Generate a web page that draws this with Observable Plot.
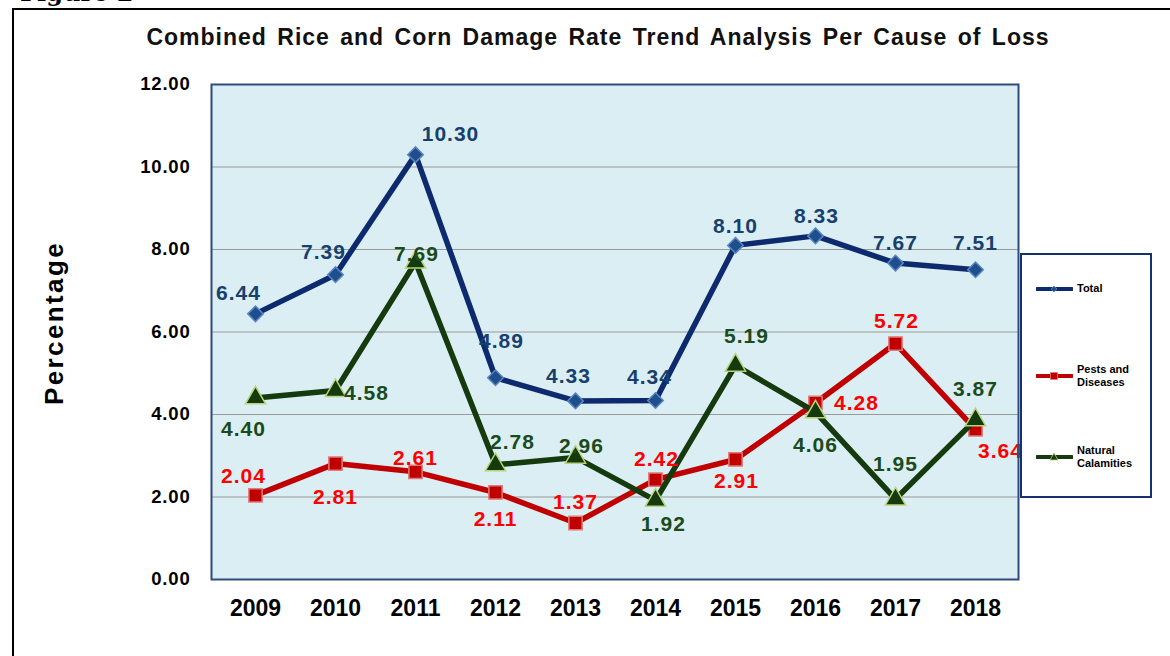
<!DOCTYPE html>
<html><head><meta charset="utf-8">
<script src="https://cdn.jsdelivr.net/npm/d3@7"></script>
<script src="https://cdn.jsdelivr.net/npm/@observablehq/plot@0.6"></script>
<style>
body{margin:0;background:#fff;font-family:"Liberation Sans",Arial,sans-serif;}
#wrap{position:relative;width:1170px;height:656px;overflow:hidden;}
#fig{position:absolute;left:20px;top:-22px;font-family:"DejaVu Serif",serif;font-weight:bold;font-size:24px;}
#frame{position:absolute;left:12px;top:8px;width:1200px;height:700px;border-left:2px solid #000;border-top:2px solid #000;}
#title{position:absolute;left:0;width:1196px;top:24px;text-align:center;font-weight:bold;font-size:23px;letter-spacing:1px;word-spacing:3px;color:#111;}
#ylab{position:absolute;left:54px;top:323px;transform:translate(-50%,-50%) rotate(-90deg);font-weight:bold;font-size:26px;letter-spacing:2.4px;white-space:nowrap;}
#legend{position:absolute;left:1020px;top:253px;width:128px;height:241px;border:2px solid #17326B;background:#fff;}
.li{position:absolute;left:14px;display:flex;align-items:center;font-size:11px;font-weight:bold;line-height:13px;}
.li svg{margin-right:4px;}
#plot{position:absolute;left:0;top:0;}
</style></head>
<body><div id="wrap">
<div id="fig">Figure 2</div>
<div id="frame"></div>
<div id="plot"></div>
<div id="title">Combined Rice and Corn Damage Rate Trend Analysis Per Cause of Loss</div>
<div id="ylab">Percentage</div>
<div id="legend"></div>
</div>
<script>
// ---- data ----
const years = ["2009","2010","2011","2012","2013","2014","2015","2016","2017","2018"];
const total = [6.44, 7.39, 10.30, 4.89, 4.33, 4.34, 8.10, 8.33, 7.67, 7.51];
const pests = [2.04, 2.81, 2.61, 2.11, 1.37, 2.42, 2.91, 4.28, 5.72, 3.64];
const natural = [4.40, 4.58, 7.69, 2.78, 2.96, 1.92, 5.19, 4.06, 1.95, 3.87];
const seriesNames = ["Total", "Pests and Diseases", "Natural Calamities"];
const yTicks = [0, 2, 4, 6, 8, 10, 12];

// ---- layout / style (label offsets relative to each point) ----
const labelOffsets = {
  "Total": [[-17,-21],[-12,-22],[35,-20],[6,-37],[-7,-25],[-6,-23],[0,-19],[1,-20],[0,-20],[0,-26]],
  "Pests and Diseases": [[-12,-19],[0,34],[0,-14],[0,27],[0,-21],[1,-20],[1,22],[41,0],[1,-22],[25,22]],
  "Natural Calamities": [[-12,31],[31,3],[1,-8],[17,-23],[6,-11],[8,24],[11,-29],[0,33],[0,-35],[0,-31]]
};
const styles = {
  "Total": {line:"#0E2A6E", fill:"#1F4E8C", stroke:"#5B84C4", text:"#17406E", symbol:"diamond2", r:7},
  "Pests and Diseases": {line:"#C00000", fill:"#C00000", stroke:"#E07A7A", text:"#FF0000", symbol:"square", r:7.5},
  "Natural Calamities": {line:"#143A0E", fill:"#143A0E", stroke:"#B9D27C", text:"#1B4A1B", symbol:"triangle", r:7.5}
};

const valuesBy = {"Total": total, "Pests and Diseases": pests, "Natural Calamities": natural};
const rows = [];
for (const s of seriesNames) {
  valuesBy[s].forEach((v, i) => rows.push({series: s, year: years[i], value: v,
    dx: labelOffsets[s][i][0], dy: labelOffsets[s][i][1]}));
}

const marks = [
  Plot.frame({fill:"#DAEEF3"}),
  Plot.ruleY(yTicks.filter(d => d > 0 && d < 12), {stroke:"#9A9A9A", strokeWidth:1.2})
];
for (const s of seriesNames) {
  const st = styles[s];
  const d = rows.filter(r => r.series === s);
  marks.push(Plot.line(d, {x:"year", y:"value", stroke:st.line, strokeWidth:5.5, strokeLinejoin:"miter"}));
  marks.push(Plot.dot(d, {x:"year", y:"value", symbol:st.symbol, r:st.r, fill:st.fill, stroke:st.stroke, strokeWidth:1.5}));
}
for (const s of seriesNames) {
  const st = styles[s];
  const d = rows.filter(r => r.series === s);
  for (const r of d) {
    marks.push(Plot.text([r], {x:"year", y:"value", text: r => r.value.toFixed(2), dx:r.dx, dy:r.dy,
      fill:st.text, fontSize:21, fontWeight:"bold", className:"vlabel"}));
  }
}
marks.push(Plot.frame({stroke:"#2E4A7D", strokeWidth:2}));

const chart = Plot.plot({
  width:1170, height:656,
  marginLeft:211, marginRight:152, marginTop:84, marginBottom:77,
  style:{background:"transparent", fontFamily:"'Liberation Sans', Arial, sans-serif"},
  x:{type:"point", domain:years, padding:0.5, label:null, tickSize:0, tickPadding:20},
  y:{domain:[0,12], ticks:yTicks, tickFormat:d => d.toFixed(2), label:null, tickSize:0, tickPadding:21},
  marks
});
const xa = chart.querySelector("[aria-label='x-axis tick label']");
if (xa) { xa.setAttribute("font-size","23"); xa.setAttribute("font-weight","bold"); xa.setAttribute("fill","#000"); }
const ya = chart.querySelector("[aria-label='y-axis tick label']");
if (ya) { ya.setAttribute("font-size","18.5"); ya.setAttribute("font-weight","bold"); ya.setAttribute("fill","#000"); ya.setAttribute("letter-spacing","0.8"); }
chart.querySelectorAll("g[aria-label='text']").forEach(g => g.setAttribute("letter-spacing","1"));
document.getElementById("plot").appendChild(chart);

// ---- legend ----
const legend = document.getElementById("legend");
const legendTops = [27, 108, 189];
seriesNames.forEach((s, i) => {
  const st = styles[s];
  const el = document.createElement("div");
  el.className = "li";
  el.style.top = legendTops[i] + "px";
  let sym;
  if (st.symbol === "diamond2") sym = `<path d="M18,3 L21,6 L18,9 L15,6Z" fill="${st.fill}" stroke="${st.stroke}" stroke-width="0.8"/>`;
  else if (st.symbol === "square") sym = `<rect x="14.5" y="2.5" width="7" height="7" fill="${st.fill}" stroke="${st.stroke}" stroke-width="0.8"/>`;
  else sym = `<path d="M18,2 L22,9 L14,9Z" fill="${st.fill}" stroke="${st.stroke}" stroke-width="0.8"/>`;
  el.innerHTML = `<svg width="37" height="12"><line x1="1" y1="6" x2="36" y2="6" stroke="${st.line}" stroke-width="4" stroke-linecap="round"/>${sym}</svg><span>${s.replace(" and ", " and<br>").replace("Natural ", "Natural<br>")}</span>`;
  legend.appendChild(el);
});
</script>
</body></html>
